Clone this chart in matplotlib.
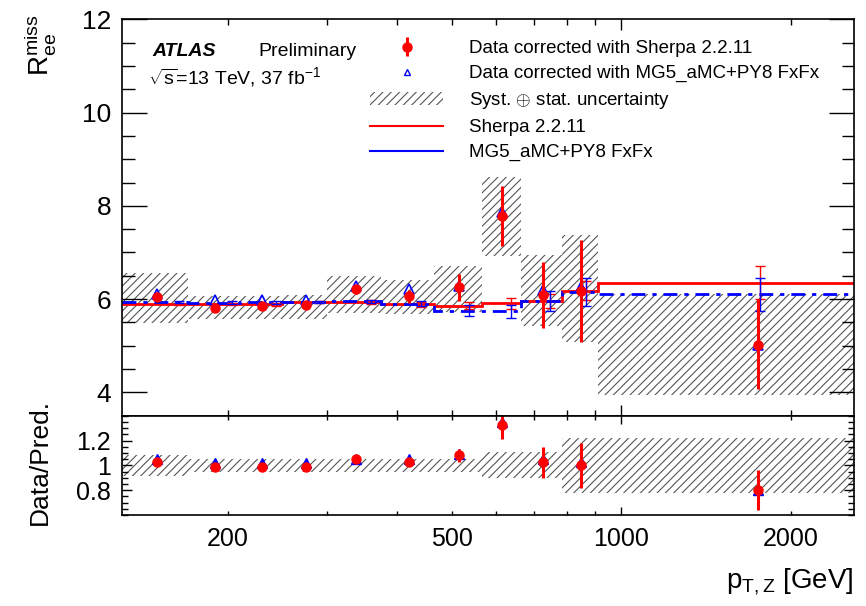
import matplotlib
matplotlib.use('Agg')
import matplotlib.pyplot as plt
from matplotlib.lines import Line2D
from matplotlib.patches import Patch
from matplotlib.ticker import FixedLocator, FuncFormatter, MultipleLocator

plt.rcParams['font.family'] = ['Liberation Sans', 'DejaVu Sans']
plt.rcParams['mathtext.fontset'] = 'custom'
plt.rcParams['mathtext.rm'] = 'Liberation Sans'
plt.rcParams['mathtext.it'] = 'Liberation Sans:italic'
plt.rcParams['hatch.linewidth'] = 0.8

# ---- data (pT,Z bins in GeV) ----
bin_edges = [130, 170, 210, 250, 300, 375, 465, 565, 665, 785, 910, 2590]
data_x = [150, 190, 230, 275, 337.5, 420, 515, 615, 725, 847.5, 1750]
mc_x = [164, 204, 244, 291, 359, 441, 536, 637, 746, 867, 1765]

# data corrected with Sherpa 2.2.11
data_sherpa = [6.04, 5.82, 5.86, 5.87, 6.21, 6.06, 6.25, 7.79, 6.09, 6.18, 5.02]
data_sherpa_up = [0.05, 0.04, 0.04, 0.05, 0.09, 0.14, 0.28, 0.64, 0.70, 1.08, 0.98]
data_sherpa_dn = [0.05, 0.04, 0.04, 0.05, 0.09, 0.15, 0.29, 0.66, 0.70, 1.09, 0.95]
# data corrected with MG5_aMC+PY8 FxFx
data_mg5 = [6.12, 5.99, 5.98, 5.99, 6.28, 6.21, 6.29, 7.86, 6.20, 6.26, 5.02]

# syst (+) stat uncertainty band
band_lo = [5.49, 5.58, 5.58, 5.58, 5.70, 5.68, 5.72, 6.92, 5.43, 5.08, 3.94]
band_hi = [6.55, 6.07, 6.07, 6.08, 6.49, 6.42, 6.72, 8.62, 6.94, 7.38, 6.10]

# predictions
sherpa_pred = [5.89, 5.89, 5.89, 5.94, 5.94, 5.89, 5.86, 5.91, 5.96, 6.18, 6.35]
sherpa_err = [0.02, 0.02, 0.03, 0.03, 0.04, 0.05, 0.08, 0.12, 0.15, 0.2, 0.35]
mg5_pred = [5.93, 5.92, 5.93, 5.94, 5.95, 5.90, 5.75, 5.74, 5.96, 6.15, 6.10]
mg5_err = [0.02, 0.03, 0.03, 0.03, 0.04, 0.05, 0.12, 0.14, 0.21, 0.30, 0.35]

# ratio panel
ratio_sherpa = [1.026, 0.99, 0.99, 0.99, 1.048, 1.026, 1.08, 1.325, 1.026, 1.0, 0.80]
ratio_sherpa_err = [0.01, 0.01, 0.01, 0.01, 0.015, 0.025, 0.05, 0.11, 0.125, 0.18, 0.16]
ratio_mg5 = [1.05, 1.02, 1.02, 1.02, 1.055, 1.05, 1.09, 1.35, 1.05, 1.03, 0.80]
ratio_band = [0.087, 0.05, 0.05, 0.05, 0.05, 0.05, 0.05, 0.105, 0.105, 0.22, 0.22]

RED = '#ff0000'
BLUE = '#0000ff'
HATCH = '#555555'

W, H = 866, 606
fig = plt.figure(figsize=(W / 100, H / 100), dpi=100)
xl, xr = 122.3 / W, 854 / W
ax = fig.add_axes([xl, 1 - 415.7 / H, xr - xl, (415.7 - 19.3) / H])
axr = fig.add_axes([xl, 1 - 515 / H, xr - xl, (515 - 415.7) / H], sharex=ax)

# ---- main panel ----
ax.stairs(band_hi, bin_edges, baseline=band_lo, fill=True, facecolor='none',
          edgecolor=HATCH, hatch='////', linewidth=0)
ax.stairs(sherpa_pred, bin_edges, baseline=None, color=RED, linewidth=2.0)
ax.stairs(mg5_pred, bin_edges, baseline=None, color=BLUE, linewidth=2.0,
          linestyle=(0, (5, 2.5, 1.5, 2.5)))
ax.errorbar(mc_x, sherpa_pred, yerr=sherpa_err, fmt='none', ecolor=RED,
            elinewidth=1.0, capsize=3.5, capthick=1.0)
ax.errorbar(mc_x, mg5_pred, yerr=mg5_err, fmt='none', ecolor=BLUE,
            elinewidth=1.0, capsize=3.5, capthick=1.0)
ax.plot(data_x, data_mg5, '^', ms=6.5, mfc='none', mec=BLUE, mew=1.2, ls='none')
eb = ax.errorbar(data_x, data_sherpa, yerr=[data_sherpa_dn, data_sherpa_up], fmt='o',
                 color=RED, ms=6.5, elinewidth=2.2, capsize=0)

ax.set_xscale('log')
ax.set_xlim(130, 2590)
ax.set_ylim(3.5, 12)

# ---- ratio panel ----
r_lo = [1 - e for e in ratio_band]
r_hi = [1 + e for e in ratio_band]
axr.stairs(r_hi, bin_edges, baseline=r_lo, fill=True, facecolor='none',
           edgecolor=HATCH, hatch='////', linewidth=0)
axr.plot(data_x, ratio_mg5, '^', ms=6.5, mfc=BLUE, mec=BLUE, ls='none')
axr.errorbar(data_x, ratio_sherpa, yerr=ratio_sherpa_err, fmt='o', color=RED,
             ms=6.5, elinewidth=2.2, capsize=0)
axr.set_ylim(0.6, 1.4)

# ---- ticks (ROOT-like, inward on all sides) ----
x_labels = {200: '200', 500: '500', 1000: '1000', 2000: '2000'}
for a in (ax, axr):
    a.xaxis.set_major_locator(FixedLocator([1000]))
    a.xaxis.set_minor_locator(FixedLocator([200, 300, 400, 500, 600, 700, 800, 900, 2000]))
    a.tick_params(which='both', direction='in', top=True, right=True, width=1.0)
    for s in a.spines.values():
        s.set_linewidth(1.2)

ax.tick_params(axis='x', which='major', length=8)
ax.tick_params(axis='x', which='minor', length=4.5)
ax.tick_params(axis='x', which='both', labelbottom=False)
ax.yaxis.set_major_locator(MultipleLocator(2))
ax.yaxis.set_minor_locator(MultipleLocator(0.5))
ax.tick_params(axis='y', which='major', length=18, labelsize=19, pad=8)
ax.tick_params(axis='y', which='minor', length=9)

fmt = FuncFormatter(lambda v, p: x_labels.get(int(round(v)), ''))
axr.xaxis.set_major_formatter(fmt)
axr.xaxis.set_minor_formatter(fmt)
axr.tick_params(axis='x', which='major', length=6, labelsize=18, pad=9)
axr.tick_params(axis='x', which='minor', length=3, labelsize=18, pad=9)
axr.yaxis.set_major_locator(FixedLocator([0.8, 1.0, 1.2]))
axr.yaxis.set_major_formatter(FuncFormatter(lambda v, p: {0.8: '0.8', 1.0: '1', 1.2: '1.2'}.get(round(v, 1), '')))
axr.yaxis.set_minor_locator(MultipleLocator(0.05))
axr.tick_params(axis='y', which='major', length=7, labelsize=18, pad=8)
axr.tick_params(axis='y', which='minor', length=4)

# ---- labels ----
fig.text(40 / W, 1 - 14 / H, r'$\mathrm{R}_{\mathrm{ee}}^{\mathrm{miss}}$', rotation=90,
         ha='center', va='top', fontsize=20)
fig.text(40 / W, 1 - 462 / H, 'Data/Pred.', rotation=90, ha='center', va='center', fontsize=19)
fig.text(854 / W, 1 - 582 / H, r'$\mathrm{p}_{\mathrm{T,Z}}$ [GeV]', ha='right', va='center',
         fontsize=20)

fig.text(152 / W, 1 - 51 / H, 'ATLAS', fontsize=14, fontweight='bold', fontstyle='italic',
         va='center')
fig.text(258 / W, 1 - 51 / H, 'Preliminary', fontsize=14, va='center')
fig.text(148 / W, 1 - 77 / H, r'$\sqrt{\mathrm{s}}$=13 TeV, 37 fb$^{-1}$', fontsize=14,
         va='center')

handles = [
    eb,
    Line2D([], [], marker='^', ls='none', mfc='none', mec=BLUE, mew=1.0, ms=5),
    Patch(facecolor='none', edgecolor=HATCH, hatch='////', linewidth=0),
    Line2D([], [], color=RED, lw=1.5),
    Line2D([], [], color=BLUE, lw=1.5),
]
labels = [
    'Data corrected with Sherpa 2.2.11',
    'Data corrected with MG5_aMC+PY8 FxFx',
    r'Syst. $\oplus$ stat. uncertainty',
    'Sherpa 2.2.11',
    'MG5_aMC+PY8 FxFx',
]
ax.legend(handles, labels, loc='upper left',
          bbox_to_anchor=((370 - 122.3) / (854 - 122.3), 1 - (40 - 19.3) / 396.4),
          frameon=False, fontsize=13.5, borderpad=0, borderaxespad=0,
          handlelength=3.9, handletextpad=1.4, labelspacing=0.42)

fig.savefig('out.png', dpi=100)
